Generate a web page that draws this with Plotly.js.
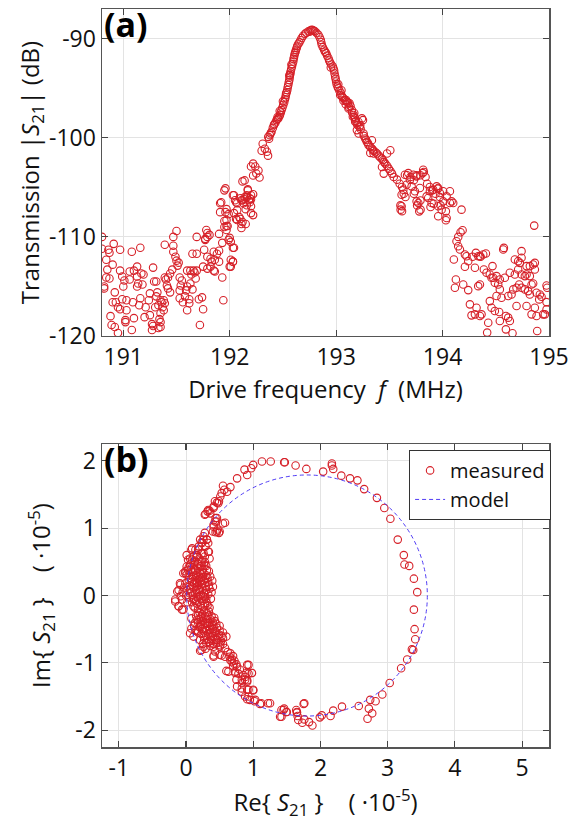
<!DOCTYPE html>
<html>
<head>
<meta charset="utf-8">
<script src="https://cdn.plot.ly/plotly-3.0.1.min.js"></script>
<style>html,body{margin:0;padding:0;background:#fff;}#chart{width:575px;height:827px;}</style>
</head>
<body>
<div id="chart"></div>
<script>
// ---- Panel (a): transmission |S21| (dB) vs drive frequency (MHz), pairs [f, dB]
const noiseLow = [
[190.80,-110.0],[190.80,-111.2],[190.86,-111.3],[190.87,-111.6],[190.91,-110.7],[190.97,-111.3],
[190.84,-112.3],[190.90,-112.8],[190.85,-113.3],[190.84,-114.1],[190.87,-114.2],[190.82,-115.0],
[190.82,-115.2],[190.92,-115.6],[190.90,-116.6],[190.93,-116.6],[190.95,-117.1],[190.97,-117.3],
[190.88,-118.0],[190.89,-118.9],[190.92,-119.1],[190.95,-119.7],[190.97,-113.4],[190.99,-114.0],
[191.01,-114.4],[191.00,-115.0],[190.99,-116.3],[191.03,-116.4],[191.03,-117.4],[191.02,-118.4],
[191.02,-118.6],[191.08,-119.4],[191.08,-111.5],[191.06,-113.5],[191.06,-114.3],[191.10,-113.4],
[191.13,-113.0],[191.13,-114.0],[191.14,-114.7],[191.13,-115.0],[191.16,-111.1],[191.09,-116.6],
[191.10,-118.2],[191.15,-116.9],[191.16,-116.2],[191.17,-113.7],[191.19,-113.8],[191.18,-114.8],
[191.21,-117.1],[191.20,-118.1],[191.25,-117.9],[191.27,-118.8],[191.27,-119.4],[191.28,-119.0],
[191.24,-116.4],[191.25,-115.7],[191.28,-113.1],[191.29,-114.5],[191.31,-114.5],[191.32,-115.6],
[191.31,-116.0],[191.35,-116.4],[191.33,-116.9],[191.36,-116.6],[191.30,-117.1],[191.35,-117.7],
[191.34,-118.3],[191.35,-118.6],[191.33,-119.2],[191.35,-119.1]
];
const noiseMid = [
[191.39,-110.8],[191.47,-110.9],[191.47,-111.5],[191.50,-109.4],[191.47,-110.0],[191.39,-114.1],
[191.40,-114.3],[191.42,-114.1],[191.44,-113.7],[191.46,-113.3],[191.41,-114.9],[191.42,-115.2],
[191.49,-112.0],[191.50,-112.4],[191.52,-112.6],[191.51,-112.9],[191.38,-116.4],[191.39,-116.7],
[191.37,-117.1],[191.38,-117.4],[191.44,-115.6],[191.53,-114.1],[191.55,-114.4],[191.54,-114.9],
[191.53,-115.4],[191.53,-116.2],[191.56,-116.6],[191.58,-116.0],[191.59,-115.4],[191.60,-115.0],
[191.60,-113.4],[191.63,-113.4],[191.66,-113.4],[191.67,-113.6],[191.69,-113.4],[191.64,-113.8],
[191.68,-114.2],[191.63,-114.7],[191.65,-115.3],[191.62,-116.3],[191.62,-116.7],[191.60,-117.4],
[191.65,-111.7],[191.69,-111.7],[191.69,-110.0],[191.78,-109.3],[191.79,-109.6],[191.79,-110.0],
[191.77,-110.2],[191.71,-116.3],[191.74,-116.1],[191.75,-117.3],[191.72,-118.9],[191.76,-111.3],
[191.79,-112.0],[191.82,-112.2],[191.83,-112.5],[191.86,-112.3],[191.88,-111.7],[191.85,-111.5],
[191.90,-111.4],[191.82,-113.0],[191.85,-113.4],[191.86,-113.5],[191.90,-112.5],[191.75,-113.0],
[191.79,-113.2],[191.93,-114.1],[191.90,-109.7],[191.93,-110.6],[191.94,-116.4],[191.99,-110.3],
[192.01,-110.5],[192.03,-111.1],[192.01,-113.0],[192.03,-112.5],[192.00,-113.0],[191.81,-109.8],
[191.77,-110.3],[192.01,-112.3],[192.03,-112.5],[192.04,-111.1]
];
const riseBand = [
[191.91,-106.6],[191.91,-107.5],[191.96,-107.5],[191.97,-108.3],[191.95,-109.0],[191.98,-108.9],
[191.97,-107.2],[191.95,-105.3],[192.04,-105.8],[192.05,-106.3],[192.07,-106.6],[192.10,-106.1],
[192.12,-106.3],[192.13,-106.6],[192.16,-106.0],[192.18,-106.3],[192.15,-107.2],[192.07,-107.3],
[192.04,-107.6],[192.09,-108.0],[192.10,-108.2],[192.07,-108.3],[192.12,-108.5],[192.15,-108.7],
[191.99,-107.7],[191.95,-108.4],[192.16,-106.8],[192.19,-106.5],[192.14,-104.3],[192.17,-105.2],
[192.22,-105.7],[192.14,-106.0],[192.19,-106.1],[192.20,-106.2],[192.16,-105.8],[192.20,-107.6],
[192.22,-107.8],[192.11,-108.7],[192.11,-109.1],[192.20,-106.9],[192.06,-108.2],[191.96,-105.1],
[191.92,-106.5],[191.97,-108.9],[191.97,-109.3],[192.00,-110.1],[192.12,-104.4],[192.03,-105.8],
[192.06,-106.5],[192.11,-106.3],[192.14,-106.2],[192.16,-106.0],[192.17,-105.3],[192.20,-105.8],
[192.22,-102.6],[192.24,-102.9],[192.27,-103.3],[192.25,-103.6],[192.22,-103.8],[192.28,-104.0],
[192.20,-102.9],[192.31,-100.6],[192.33,-101.1],[192.35,-101.4],[192.36,-101.8],[192.30,-101.3]
];
const peakBand = [
[192.770,-89.09],[192.760,-89.15],[192.780,-89.12],[192.790,-89.20],[192.750,-89.30],[192.739,-89.26],
[192.720,-89.40],[192.708,-89.49],[192.690,-89.70],[192.676,-89.93],[192.665,-90.15],[192.654,-90.37],
[192.645,-90.50],[192.635,-90.71],[192.630,-90.90],[192.623,-91.11],[192.618,-91.30],[192.613,-91.45],
[192.608,-91.65],[192.604,-91.86],[192.600,-92.05],[192.597,-92.30],[192.590,-92.55],[192.585,-92.80],
[192.578,-93.05],[192.572,-93.31],[192.570,-93.50],[192.566,-93.65],[192.563,-93.90],[192.560,-94.16],
[192.555,-94.40],[192.550,-94.66],[192.545,-94.90],[192.541,-95.17],[192.535,-95.40],[192.528,-95.68],
[192.524,-95.90],[192.519,-96.11],[192.512,-96.40],[192.503,-96.69],[192.495,-96.95],[192.487,-97.20],
[192.480,-97.45],[192.472,-97.70],[192.465,-97.85],[192.456,-98.04],[192.448,-98.10],[192.440,-98.21],
[192.430,-98.45],[192.415,-98.72],[192.405,-99.00],[192.393,-99.39],[192.385,-99.55],[192.377,-99.73],
[192.362,-99.90],[192.370,-100.10],[192.580,-92.60],[192.560,-93.70],[192.530,-95.50],[192.500,-96.30],
[192.470,-97.30],[192.450,-97.90],[192.420,-98.60],
[192.802,-89.26],[192.815,-89.40],[192.833,-89.59],[192.845,-89.85],[192.855,-90.10],[192.860,-90.35],
[192.865,-90.61],[192.875,-90.85],[192.887,-91.11],[192.895,-91.30],[192.906,-91.45],[192.915,-91.70],
[192.928,-91.96],[192.935,-92.20],[192.943,-92.40],[192.955,-92.60],[192.969,-92.80],[192.975,-93.00],
[192.981,-93.21],[192.985,-93.50],[192.991,-93.82],[192.995,-94.05],[193.000,-94.32],[193.005,-94.60],
[193.013,-94.83],[193.020,-95.00],[193.031,-95.24],[193.045,-95.50],[193.053,-95.78],[193.060,-95.90],
[193.069,-96.01],[193.085,-96.20],[193.101,-96.35],[193.110,-96.45],[193.126,-96.52],[193.135,-96.80],
[193.148,-97.20],[193.150,-97.45],[193.164,-97.70],[193.170,-97.90],[193.179,-98.04],[193.185,-98.30],
[193.195,-98.55],[193.200,-98.70],[193.220,-98.89],[193.252,-98.21],[193.211,-99.56],[193.230,-99.10],
[193.195,-99.22],[193.226,-98.72],[193.242,-98.04],[193.179,-98.38],[193.157,-97.87],[193.116,-97.03],
[193.094,-96.18],[193.069,-96.25],[193.038,-95.68],[192.950,-92.90],[193.020,-94.60],[193.050,-95.20],
[193.090,-96.60],[193.120,-96.90],[193.170,-97.50],[193.210,-98.40]
];
const fallBand = [
[193.258,-99.56],[193.260,-99.80],[193.274,-100.07],[193.280,-100.20],[193.289,-100.41],[193.300,-100.55],
[193.305,-100.74],[193.320,-100.90],[193.336,-101.08],[193.345,-101.20],[193.352,-101.32],[193.370,-101.45],
[193.384,-101.59],[193.400,-101.80],[193.415,-101.99],[193.430,-102.10],[193.440,-102.26],[193.450,-102.45],
[193.462,-102.60],[193.480,-102.85],[193.494,-103.11],[193.510,-103.35],[193.525,-103.61],[193.541,-103.95],
[193.572,-104.22],[193.597,-104.63],[193.619,-104.97],[193.635,-105.64],[193.651,-105.98],[193.509,-101.25],
[193.478,-101.59],[193.431,-102.94],[193.447,-103.61],[193.352,-101.59],[193.321,-101.52],[193.336,-100.24],
[193.604,-106.82],[193.619,-107.40]
];
const shoulderBand = [
[193.646,-103.72],[193.678,-103.56],[193.725,-103.72],[193.756,-103.89],[193.818,-103.22],[193.812,-103.56],
[193.693,-104.23],[193.662,-104.73],[193.631,-105.23],[193.615,-105.74],[193.709,-104.90],[193.740,-105.40],
[193.787,-105.07],[193.756,-106.41],[193.772,-106.58],[193.793,-107.25],[193.781,-107.42],[193.850,-105.91],
[193.881,-105.40],[193.912,-105.23],[193.944,-104.90],[193.975,-105.57],[193.959,-105.07],[194.006,-105.40],
[194.069,-105.40],[194.038,-105.91],[194.085,-106.41],[194.100,-106.58],[194.069,-106.58],[194.006,-106.41],
[193.959,-106.91],[193.991,-107.25],[194.031,-107.42],[194.031,-108.32],[194.038,-108.09],[193.959,-107.92],
[194.178,-107.25],[193.897,-106.58],[193.865,-106.07],[193.615,-106.91],[193.606,-107.25],[193.667,-103.78],
[193.698,-103.95],[193.730,-104.29],[193.755,-103.78],[193.792,-103.78],[193.824,-103.45],[193.840,-103.95],
[193.855,-104.63],[193.880,-104.97],[193.903,-105.30],[193.934,-105.64],[193.956,-105.14],[193.975,-105.98],
[193.981,-106.82],[193.918,-106.66],[193.887,-106.99],[193.792,-106.32],[193.761,-106.82],[193.730,-105.64]
];
const noiseHigh = [
[194.188,-109.33],[194.169,-109.53],[194.147,-110.00],[194.131,-110.44],[194.147,-110.94],[194.163,-111.28],
[194.106,-112.28],[194.210,-111.78],[194.225,-111.95],[194.241,-112.45],[194.210,-113.02],[194.282,-112.01],
[194.313,-111.61],[194.351,-111.95],[194.382,-111.78],[194.407,-111.68],[194.304,-113.12],[194.335,-111.95],
[194.357,-112.01],[194.125,-114.30],[194.116,-115.13],[194.194,-114.80],[194.241,-115.37],[194.351,-114.80],
[194.335,-114.97],[194.257,-116.81],[194.319,-117.15],[194.272,-117.92],[194.304,-117.82],[194.351,-117.99],
[194.366,-117.82],[194.429,-118.66],[194.419,-119.66],[194.388,-113.29],[194.413,-113.62],[194.444,-113.79],
[194.469,-112.95],[194.460,-114.13],[194.476,-114.13],[194.507,-113.96],[194.538,-114.30],[194.491,-114.63],
[194.523,-114.80],[194.538,-115.30],[194.554,-116.14],[194.507,-115.97],[194.444,-116.48],[194.460,-117.15],
[194.491,-117.48],[194.532,-117.58],[194.538,-118.49],[194.595,-117.99],[194.617,-118.15],[194.632,-118.49],
[194.595,-119.33],[194.657,-119.73],[194.585,-114.13],[194.632,-113.62],[194.679,-113.79],[194.710,-113.29],
[194.742,-113.79],[194.773,-113.96],[194.789,-113.79],[194.820,-113.96],[194.726,-112.62],[194.742,-111.44],
[194.679,-112.28],[194.710,-112.45],[194.742,-112.11],[194.789,-112.95],[194.820,-112.95],[194.851,-112.79],
[194.867,-113.29],[194.867,-112.62],[194.570,-111.28],[194.576,-111.11],[194.617,-115.97],[194.648,-115.81],
[194.664,-115.30],[194.695,-115.13],[194.720,-114.80],[194.742,-115.13],[194.773,-115.30],[194.804,-115.47],
[194.836,-114.80],[194.851,-114.70],[194.820,-115.81],[194.883,-115.64],[194.914,-115.81],[194.930,-116.04],
[194.908,-116.31],[194.977,-114.90],[194.983,-115.13],[194.695,-116.98],[194.789,-116.98],[194.867,-117.15],
[194.836,-117.82],[194.883,-117.99],[194.945,-117.82],[194.977,-116.58],[194.977,-117.32],[194.961,-117.82],
[194.889,-119.50],[194.861,-108.86]
];

// ---- Panel (b): complex S21 (units of 1e-5), pairs [Re, Im]
const arcTop = [
[1.13,1.99],[1.26,1.99],[1.46,1.98],[1.63,1.93],[1.00,1.94],[0.97,1.89],[0.87,1.87],[0.91,1.79],
[0.76,1.74],[0.66,1.61],[0.55,1.63],[0.57,1.57],[0.61,1.54],[0.53,1.52],[0.51,1.47],[0.49,1.40],
[0.46,1.38],[0.41,1.32],[0.35,1.26],[0.29,1.21],[0.32,1.25],[0.44,1.15],[0.45,1.10],[0.41,1.05],
[0.47,0.98],[0.44,0.94],[0.58,1.08],[0.40,0.95],[0.49,0.93],[0.43,1.40],[0.48,1.37],[0.41,1.30],
[0.33,1.27],[0.28,1.20],[0.36,1.22],[0.46,1.15],[0.43,1.10],[0.55,1.07],[0.41,1.02],[0.46,0.95],
[0.50,0.95],[0.28,0.93]
];
const arcRight = [
[1.47,1.98],[1.79,1.88],[2.04,1.84],[2.17,1.96],[2.17,1.93],[2.19,1.88],[2.31,1.78],[2.44,1.74],
[2.55,1.71],[2.65,1.58],[2.84,1.45],[2.95,1.30],[3.04,1.14],[3.15,0.83],[3.24,0.60],[3.25,0.46],
[3.32,0.44],[3.39,0.25],[3.44,0.05],[3.39,-0.21],[3.40,-0.50],[3.41,-0.65],[3.36,-0.80],[3.38,-0.81],
[3.29,-0.95],[3.20,-1.08],[3.03,-1.30],[2.92,-1.47],[2.82,-1.57],[2.74,-1.55],[2.72,-1.68],[2.77,-1.75],
[2.70,-1.83],[2.57,-1.64],[2.32,-1.65],[2.19,-1.71],[2.15,-1.79],[2.02,-1.78],[1.99,-1.81],[1.88,-1.93],
[1.83,-1.88],[1.76,-1.84],[1.73,-1.89],[1.76,-1.60],[1.75,-1.61],[1.64,-1.70],[1.66,-1.79],[1.65,-1.73],
[1.50,-1.73],[1.46,-1.68],[1.42,-1.70],[1.42,-1.80],[1.40,-1.80],[1.45,-1.70],[1.49,-1.73],[1.65,-1.74],
[1.67,-1.85],[1.25,-1.60],[1.10,-1.61],[1.22,-1.60],[1.12,-1.60]
];
const clusterUpper = [
[0.26,0.88],[0.21,0.83],[0.24,0.78],[0.31,0.83],[0.29,0.73],[0.34,0.65],[0.19,0.73],[0.14,0.68],
[0.09,0.70],[0.16,0.60],[0.01,0.60],[0.06,0.55],[0.11,0.58],[0.06,0.46],[0.01,0.43],[-0.01,0.36],
[0.01,0.31],[-0.04,0.33],[0.04,0.23],[-0.01,0.18],[-0.08,0.16],[-0.13,0.06],[-0.08,-0.01],[-0.06,-0.06],
[-0.16,-0.09],[-0.11,-0.16],[-0.06,-0.21],[0.26,0.83],[0.31,0.83],[0.33,0.78],[0.23,0.79],[0.08,0.68],
[0.18,0.68],[0.26,0.63],[0.33,0.65],[0.16,0.60],[0.03,0.53],[0.08,0.48],[0.13,0.50],[0.21,0.43],
[0.28,0.50],[-0.01,0.33],[0.03,0.38],[-0.09,0.18],[-0.11,0.08],[-0.16,-0.06],[-0.11,-0.16],[-0.04,-0.21],
[0.11,-0.06],[0.06,0.03],[0.16,0.18],[0.21,0.08],[0.26,-0.01],[0.31,-0.11],[0.26,-0.16],[0.11,-0.16],
[0.12,0.45],[0.18,0.40],[0.25,0.38],[0.10,0.35],[0.15,0.30],[0.22,0.32],[0.30,0.30],[0.08,0.25],
[0.13,0.22],[0.19,0.24],[0.26,0.22],[0.33,0.20],[0.05,0.15],[0.11,0.12],[0.17,0.14],[0.23,0.12],
[0.29,0.14],[0.35,0.10],[0.08,0.05],[0.14,0.03],[0.20,0.05],[0.27,0.03],[0.33,0.02],[0.05,-0.03],
[0.12,-0.05],[0.18,-0.03],[0.24,-0.08],[0.30,-0.05],[0.09,-0.10],[0.16,-0.12],[0.22,-0.15],[0.28,-0.13],
[0.35,-0.18],[0.13,0.52],[0.20,0.55],[0.27,0.45],[0.04,0.42],[0.31,0.38],[0.36,0.28],[0.02,0.08],
[-0.05,0.05],[-0.03,0.12],[0.38,0.05],
[0.15,0.08],[0.19,0.10],[0.24,0.17],[0.21,0.20],[0.17,0.27],[0.24,0.27],[0.28,0.25],[0.12,0.18],
[0.09,0.20],[0.14,0.37],[0.20,0.35],[0.26,0.33],[0.32,0.26],[0.34,0.15],[0.30,0.08],[0.25,0.00],
[0.20,-0.01],[0.15,-0.08],[0.10,0.00],[0.06,0.10],[0.04,0.30],[0.07,0.38],[0.18,0.47],[0.24,0.50],
[0.30,0.44],[0.34,0.36],[0.39,0.22],[0.40,0.13],[0.37,-0.05],[0.32,-0.15],[0.18,-0.20],[0.13,-0.18],
[0.02,-0.10],[0.00,0.00],[0.10,0.28],[0.22,0.26],[0.16,0.20],[0.28,0.19],[0.22,0.00],[0.28,-0.03],
[0.12,0.40],[0.17,0.33],[0.23,0.44],[0.09,0.53],[0.16,0.57],[0.23,0.62],[0.28,0.58],[0.35,0.55]
];
const clusterLower = [
[0.18,-0.29],[0.13,-0.41],[0.08,-0.49],[0.06,-0.56],[0.11,-0.61],[0.21,-0.66],[0.26,-0.76],[0.23,-0.81],
[0.36,-0.71],[0.46,-0.66],[0.50,-0.76],[0.55,-0.63],[0.60,-0.61],[0.43,-0.83],[0.41,-0.91],[0.50,-0.88],
[0.58,-0.91],[0.65,-0.91],[0.21,-0.46],[0.31,-0.41],[0.41,-0.46],[0.43,-0.53],[0.36,-0.56],[0.26,-0.53],
[0.16,-0.36],[0.23,-0.31],[0.31,-0.26],[0.38,-0.31],[0.08,-0.34],[0.16,-0.53],
[0.20,-0.25],[0.27,-0.22],[0.34,-0.24],[0.15,-0.30],[0.22,-0.33],[0.29,-0.31],[0.36,-0.35],[0.43,-0.38],
[0.18,-0.40],[0.25,-0.38],[0.32,-0.42],[0.39,-0.44],[0.46,-0.48],[0.20,-0.47],[0.28,-0.49],[0.35,-0.51],
[0.42,-0.55],[0.49,-0.58],[0.23,-0.57],[0.30,-0.60],[0.37,-0.62],[0.44,-0.65],[0.52,-0.68],[0.27,-0.66],
[0.34,-0.69],[0.41,-0.72],[0.48,-0.70],[0.55,-0.72],[0.32,-0.45],[0.26,-0.44],[0.40,-0.50],[0.12,-0.45],
[0.24,-0.28],[0.30,-0.35],[0.35,-0.40],[0.40,-0.40],[0.45,-0.42],[0.28,-0.40],[0.22,-0.42],[0.24,-0.50],
[0.30,-0.52],[0.38,-0.55],[0.45,-0.55],[0.50,-0.52],[0.33,-0.57],[0.26,-0.60],[0.40,-0.60],[0.47,-0.62],
[0.32,-0.65],[0.38,-0.67],[0.45,-0.70],[0.30,-0.70],[0.25,-0.72],[0.36,-0.75],[0.53,-0.60],[0.18,-0.55],
[0.14,-0.52],[0.20,-0.35],[0.33,-0.30],[0.42,-0.33],[0.50,-0.45],[0.55,-0.55]
];
const tailLower = [
[0.68,-0.98],[0.70,-1.05],[0.73,-1.15],[0.63,-1.13],[0.75,-1.25],[0.83,-1.30],[0.88,-1.25],[0.93,-1.03],
[0.90,-1.15],[0.98,-1.15],[0.91,-1.28],[0.83,-1.38],[0.93,-1.40],[1.00,-1.40],[0.88,-1.50],[0.95,-1.55],
[1.02,-1.57],[0.21,-0.82],[0.29,-0.79],[0.41,-0.76],[0.51,-0.74],[0.41,-0.89],[0.53,-0.89],[0.66,-0.86],
[0.68,-0.94],[0.71,-1.01],[0.76,-1.06],[0.66,-0.96],[0.60,-1.12],[0.73,-1.13],[0.78,-1.16],[0.83,-1.25],
[0.88,-1.21],[0.91,-1.26],[0.93,-1.16],[0.91,-1.03],[0.98,-1.15],[0.76,-1.35],[0.83,-1.43],[0.91,-1.40],
[0.93,-1.50],[0.91,-1.54],[1.00,-1.41],[1.03,-1.55],[0.58,-0.78],[0.62,-0.84],[0.70,-0.90],[0.72,-0.97],
[0.75,-1.02],[0.80,-1.10],[0.85,-1.18]
];

// model: circle in the complex plane (center, radius in units of 1e-5)
const modelCenter = [1.80, 0.0];
const modelRadius = 1.79;

// axis ticks (labels use a plain hyphen as in the reference)
const freqTicks = [191, 192, 193, 194, 195];
const freqLabels = ['191', '192', '193', '194', '195'];
const dbTicks = [-120, -110, -100, -90];
const dbLabels = ['-120', '-110', '-100', '-90'];
const reTicks = [-1, 0, 1, 2, 3, 4, 5];
const reLabels = ['-1', '0', '1', '2', '3', '4', '5'];
const imTicks = [-2, -1, 0, 1, 2];
const imLabels = ['-2', '-1', '0', '1', '2'];

const spectrum = [].concat(noiseLow, noiseMid, riseBand, peakBand, fallBand, shoulderBand, noiseHigh);
const complexPts = [].concat(clusterUpper, clusterLower, tailLower, arcTop, arcRight);

const red = 'rgb(214,32,40)';
const blue = 'rgb(80,60,245)';
const FONT = 'Open Sans, sans-serif';
const TITLE_FONT = {family: FONT, size: 24, color: '#111'};
const markerStyle = {symbol: 'circle-open', size: 7.5, color: red, line: {width: 1.1, color: red}};

const traces = [
  {x: spectrum.map(p => p[0]), y: spectrum.map(p => p[1]), type: 'scatter', mode: 'markers',
   marker: markerStyle, xaxis: 'x', yaxis: 'y', showlegend: false},
  {x: complexPts.map(p => p[0]), y: complexPts.map(p => p[1]), type: 'scatter', mode: 'markers',
   marker: markerStyle, xaxis: 'x2', yaxis: 'y2', name: 'measured', showlegend: true},
  {x: [null], y: [null], type: 'scatter', mode: 'lines', line: {color: blue, width: 1, dash: '4px,3px'},
   xaxis: 'x2', yaxis: 'y2', name: 'model', showlegend: true}
];

const axisCommon = {
  showline: true, linecolor: '#555', linewidth: 1.5, mirror: 'ticks',
  ticks: 'inside', ticklen: 6, tickcolor: '#444', tickwidth: 1.2,
  showgrid: true, gridcolor: '#e3e3e3', gridwidth: 1, zeroline: false,
  tickfont: {family: FONT, size: 23, color: '#111'}, tickmode: 'array'
};

const layout = {
  width: 575, height: 827,
  margin: {l: 102, r: 26, t: 8, b: 80},
  paper_bgcolor: '#fff', plot_bgcolor: '#fff',
  font: {family: FONT, color: '#111'},
  xaxis: Object.assign({}, axisCommon, {
    domain: [0, 1], anchor: 'y', range: [190.8, 195], tickvals: freqTicks, ticktext: freqLabels,
    title: {text: 'Drive frequency  <i>f</i>  (MHz)', font: TITLE_FONT, standoff: 6}
  }),
  yaxis: Object.assign({}, axisCommon, {
    domain: [0.5562, 0.9986], anchor: 'x', range: [-120, -87], tickvals: dbTicks, ticktext: dbLabels,
    title: {text: 'Transmission |<i>S</i><sub>21</sub>| (dB)', font: TITLE_FONT, standoff: 2}
  }),
  xaxis2: Object.assign({}, axisCommon, {
    domain: [0, 1], anchor: 'y2', range: [-1.25, 5.4], tickvals: reTicks, ticktext: reLabels,
    title: {text: 'Re{ <i>S</i><sub>21</sub> }    ( ·10<sup>-5</sup>)', font: TITLE_FONT, standoff: 6}
  }),
  yaxis2: Object.assign({}, axisCommon, {
    domain: [0, 0.41], anchor: 'x2', range: [-2.25, 2.25], tickvals: imTicks, ticktext: imLabels,
    title: {text: 'Im{ <i>S</i><sub>21</sub> }    ( ·10<sup>-5</sup>)', font: TITLE_FONT, standoff: 18}
  }),
  shapes: [{
    type: 'circle', xref: 'x2', yref: 'y2',
    x0: modelCenter[0] - modelRadius, x1: modelCenter[0] + modelRadius,
    y0: modelCenter[1] - modelRadius, y1: modelCenter[1] + modelRadius,
    line: {color: blue, width: 1, dash: '4px,3px'}, layer: 'above'
  }],
  legend: {
    x: 0.687, y: 0.402, xanchor: 'left', yanchor: 'top',
    bordercolor: '#333', borderwidth: 1, bgcolor: '#fff',
    font: {family: FONT, size: 20, color: '#111'}, tracegroupgap: 0, itemwidth: 30
  },
  annotations: [
    {text: '<b>(a)</b>', xref: 'paper', yref: 'paper', x: 0.0, y: 1.012, xanchor: 'left', yanchor: 'top',
     showarrow: false, font: {family: FONT, size: 34, color: '#000'}},
    {text: '<b>(b)</b>', xref: 'paper', yref: 'paper', x: 0.0, y: 0.424, xanchor: 'left', yanchor: 'top',
     showarrow: false, font: {family: FONT, size: 34, color: '#000'}}
  ]
};

Plotly.newPlot('chart', traces, layout, {displayModeBar: false, staticPlot: true});
</script>
</body>
</html>
